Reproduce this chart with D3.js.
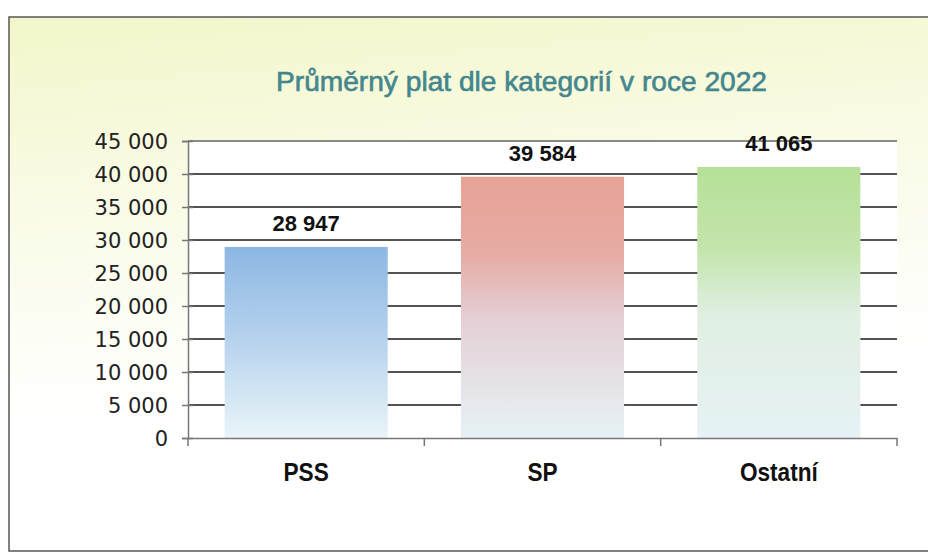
<!DOCTYPE html>
<html>
<head>
<meta charset="utf-8">
<script src="https://cdn.jsdelivr.net/npm/d3@7"></script>
<style>
html,body{margin:0;padding:0;background:#fff;}
svg{display:block;}
</style>
</head>
<body>
<svg id="chart" width="928" height="554"></svg>
<script>
const categories = ["PSS", "SP", "Ostatní"];
const values = [28947, 39584, 41065];
const yTicks = [0, 5000, 10000, 15000, 20000, 25000, 30000, 35000, 40000, 45000];
const title = "Průměrný plat dle kategorií v roce 2022";
const gradients = [
  [["0%", "#8cb7e2"], ["45%", "#b3d0ed"], ["100%", "#e9f4f8"]],
  [["0%", "#e8a296"], ["30%", "#e6aca4"], ["55%", "#e4d0d6"], ["100%", "#e6f2f5"]],
  [["0%", "#b6e097"], ["30%", "#c3e5ac"], ["55%", "#e0efe2"], ["100%", "#e6f2f5"]]
];

const W = 928, H = 554;
const margin = {top: 141, right: 31, bottom: 116, left: 188};
const svg = d3.select("#chart");
const defs = svg.append("defs");

const bg = defs.append("linearGradient").attr("id", "bg")
  .attr("x1", 0).attr("y1", 0).attr("x2", 0.15).attr("y2", 1);
bg.append("stop").attr("offset", "0%").attr("stop-color", "#f3f6c9");
bg.append("stop").attr("offset", "35%").attr("stop-color", "#f9fbe6");
bg.append("stop").attr("offset", "75%").attr("stop-color", "#ffffff");
bg.append("stop").attr("offset", "100%").attr("stop-color", "#ffffff");

gradients.forEach((g, i) => {
  const lg = defs.append("linearGradient").attr("id", "bar" + i)
    .attr("x1", 0).attr("y1", 0).attr("x2", 0).attr("y2", 1);
  g.forEach(s => lg.append("stop").attr("offset", s[0]).attr("stop-color", s[1]));
});

svg.append("rect").attr("x", 0).attr("y", 0).attr("width", W).attr("height", H).attr("fill", "#fff");
svg.append("rect").attr("x", 9).attr("y", 17).attr("width", W + 10).attr("height", 534)
  .attr("fill", "url(#bg)").attr("stroke", "#555").attr("stroke-width", 1.5);

const x = d3.scaleBand().domain(categories)
  .range([margin.left, W - margin.right]).paddingInner(0.31).paddingOuter(0.155);
const y = d3.scaleLinear().domain([0, 45000]).range([H - margin.bottom, margin.top]);

const locale = d3.formatLocale({decimal: ",", thousands: " ", grouping: [3], currency: ["", ""]});
const fmt = locale.format(",d");

// plot area
svg.append("rect").attr("x", margin.left).attr("y", margin.top)
  .attr("width", W - margin.right - margin.left).attr("height", H - margin.bottom - margin.top)
  .attr("fill", "#fff");

// gridlines
svg.append("g").selectAll("line").data(yTicks.filter(d => d > 0)).join("line")
  .attr("x1", margin.left).attr("x2", W - margin.right)
  .attr("y1", d => y(d)).attr("y2", d => y(d))
  .attr("stroke", d => d === 45000 ? "#666" : "#1a1a1a")
  .attr("stroke-width", d => d === 45000 ? 1.5 : 1.6);

// bars
svg.append("g").selectAll("rect").data(values).join("rect")
  .attr("x", (d, i) => x(categories[i]))
  .attr("width", x.bandwidth())
  .attr("y", d => y(d))
  .attr("height", d => y(0) - y(d))
  .attr("fill", (d, i) => "url(#bar" + i + ")");

// y axis
const yAxis = svg.append("g").attr("transform", `translate(${margin.left},0)`)
  .call(d3.axisLeft(y).tickValues(yTicks).tickFormat(fmt).tickSize(6).tickPadding(14));
yAxis.select(".domain").attr("stroke", "#777").attr("stroke-width", 1.5);
yAxis.selectAll(".tick line").attr("stroke", "#777").attr("stroke-width", 1.5).attr("x2", -6).attr("x1", 5);
yAxis.selectAll(".tick text")
  .attr("font-family", "'DejaVu Sans', sans-serif").attr("font-size", 21)
  .attr("fill", "#222").attr("dy", "0.36em");

// x axis
const xAxis = svg.append("g").attr("transform", `translate(0,${y(0)})`)
  .call(d3.axisBottom(x).tickSize(0).tickFormat(""));
xAxis.select(".domain").attr("stroke", "#777").attr("stroke-width", 1.5);

// category labels
svg.append("g").selectAll("text").data(categories).join("text")
  .attr("transform", d => `translate(${x(d) + x.bandwidth() / 2},481) scale(0.87,1)`)
  .attr("text-anchor", "middle")
  .attr("font-family", "'Liberation Sans', Arial, sans-serif")
  .attr("font-size", 26).attr("font-weight", "bold").attr("fill", "#111")
  .text(d => d);

// category separators
const step = x.step();
const seps = [0, 1, 2, 3].map(i => margin.left + i * step);
svg.append("g").selectAll("line").data(seps).join("line")
  .attr("x1", d => d).attr("x2", d => d)
  .attr("y1", y(0)).attr("y2", y(0) + 8)
  .attr("stroke", "#777").attr("stroke-width", 1.5);

// value labels
svg.append("g").selectAll("text").data(values).join("text")
  .attr("x", (d, i) => x(categories[i]) + x.bandwidth() / 2)
  .attr("y", d => y(d) - 16)
  .attr("text-anchor", "middle")
  .attr("font-family", "'Liberation Sans', Arial, sans-serif")
  .attr("font-size", 22).attr("font-weight", "bold").attr("fill", "#111")
  .text(d => fmt(d));

// title
svg.append("text").attr("x", 521.5).attr("y", 91).attr("text-anchor", "middle")
  .attr("font-family", "'Liberation Sans', Arial, sans-serif")
  .attr("font-size", 27).attr("fill", "#44868e")
  .attr("stroke", "#44868e").attr("stroke-width", 0.6)
  .attr("textLength", 491).attr("lengthAdjust", "spacingAndGlyphs")
  .text(title);
</script>
</body>
</html>
